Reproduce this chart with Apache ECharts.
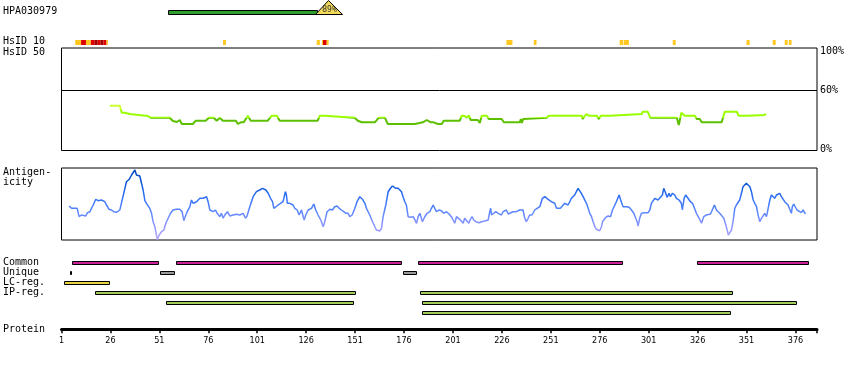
<!DOCTYPE html>
<html><head><meta charset="utf-8">
<script src="https://cdn.jsdelivr.net/npm/echarts@6/dist/echarts.min.js"></script>
<style>html,body{margin:0;padding:0;background:#fff}#c{width:850px;height:370px}</style>
</head><body><div id="c"></div>
<script>
// ---------- data ----------
const antibodyName = 'HPA030979';
const antigenRange = [[55.5, 131.4]];
const antigenIdentity = '89%';

// HsID 10 cells: [start, end, level] level 1=yellow, 2=red, 3=dark red
const hsid10Cells = [
  [8,11,1],[11,13.5,2],[13.5,16,1],[16,18,2],[18,19.5,3],[19.5,21,2],[21,22.5,3],[22.5,24,2],[24,24.7,1],
  [83.5,85,1],
  [131.4,133,1],[134,134.6,1],[134.6,136.5,2],[136.5,137.5,1],
  [228.3,231.4,1],[242.3,243.7,1],[286.2,288,1],[288.3,290.9,1],
  [313.3,314.8,1],[351,352.6,1],[364.4,365.9,1],[370.5,372,1],[372.6,374,1]
];

// HsID 50 identity line (residue, %)
const hsRes = [25.7,30.8,31.8,33.3,33.9,35.9,36.4,45.1,45.8,46.5,
  56.3,57.9,59.9,61.4,62.5,68.1,68.6,69.6,74.7,76.3,
  78.8,80.3,81.9,83.4,90.1,91.1,92.6,94.1,96.2,97.7,
  106.4,108.4,111,112.5,131.9,133,135.5,136.5,150.8,152.4,
  154.4,161.1,163.1,166.2,167.7,168.2,168.7,181.5,182.5,185.6,
  187.6,189.7,191.2,193.3,195.3,196.3,204.5,205.5,207,208.1,
  209.1,210.1,213.7,214.7,215.7,218.3,219.3,225.9,227,235.1,
  235.7,236.2,236.9,237.7,248.9,250,266.8,267.3,269.1,270.4,
  274.5,275.5,276.5,281.1,282.1,297.5,298,300.5,301.8,315.4,
  316.4,317.7,319.4,324.6,325.6,327.1,328.1,338.3,339.9,346,
  347,351.6,352.6,360.3,360.8];
const hsVal = [44.8,44.8,37.8,37.8,36.5,36.5,34.5,34.5,36.5,32.8,
  32.8,29.5,28.5,30.5,26.5,26.5,24.5,29.8,29.8,32.8,
  32.8,29.8,32.8,29.8,29.8,26.5,28.2,28.2,34.8,29.8,
  29.8,34.8,34.8,29.8,29.8,34.8,34.8,32.8,32.8,29.8,
  28.2,28.2,32.8,32.8,26.5,24.5,26.5,26.5,28.2,28.2,
  30.5,28.2,28.2,26.5,26.5,29.8,29.8,34.8,34.5,32.8,
  35,30.5,30.5,27.5,34.8,34.8,31.5,31.5,28.2,28.2,
  31.5,27.5,31.5,32.8,32.8,34.8,34.8,31.5,36.5,34.8,
  34.8,31.5,34.8,34.8,36.5,36.5,38.8,38.8,32.8,32.8,
  25.5,37.8,34.8,34.8,31.5,31.5,28.2,28.2,38.8,38.8,
  34.8,34.8,35.5,35.5,37];

// Antigenicity profile (residue, score)
const antigenicity = [
[4.9,34],[6.1,31.7],[9.0,31.7],[10.0,23.3],[11.2,25],[12.1,26.7],[13.4,24],[14.3,27.3],[15.5,28.3],[16.3,30],
[17.2,35],[18.5,40.7],[19.7,39.3],[21.4,40],[23.1,38.3],[24.0,35],[25.3,30.7],[26.5,30],[27.7,28.3],[29.1,27.7],
[29.9,26],[30.8,30],[31.6,36.7],[32.8,46.7],[34.2,58.3],[35.6,60.7],[36.8,65],[37.6,66],[38.5,70],[39.3,65],
[40.2,66],[41.0,64],[41.9,56.7],[42.7,50],[43.6,39.3],[44.4,36.7],[45.3,34],[46.1,31.7],[47.0,26.7],[47.8,18.3],
[48.7,13.3],[49.5,5],[50.0,0.5],[50.9,5],[52.1,8.3],[53.3,10],[54.3,16.7],[55.5,21.7],[56.7,26.7],[58.0,30],
[59.7,30.7],[61.4,30.7],[62.6,28.3],[63.5,19.3],[64.2,23.3],[65.2,28.3],[66.6,33.3],[67.4,40],[68.3,36.7],[70.0,38.3],
[71.7,41.7],[73.4,41.7],[75.1,43.3],[75.9,38.3],[76.8,30],[77.6,31.7],[78.5,28.3],[79.7,30],[80.5,26.7],[81.9,23.3],
[82.7,26.7],[83.6,21.7],[84.4,25],[85.8,28.3],[87.0,24],[88.7,25],[90.4,25.7],[92.1,25],[93.8,26.7],[95.0,21.7],
[95.8,24],[97.2,33.3],[98.9,43.3],[100.6,48.3],[102.3,50],[103.7,51.7],[104.5,53.3],[105.4,50],[106.6,46.7],[107.8,41.7],
[108.8,38.3],[109.5,31.7],[110.5,33.3],[111.7,35],[112.9,36.7],[114.2,38.3],[115.4,48.3],[115.9,45],[116.4,36.7],[117.6,36.7],
[118.5,35],[119.3,35],[120.2,31.7],[121.4,30],[122.4,25],[123.6,30],[124.5,23.3],[125.0,20],[125.8,25],[127.0,30],
[127.9,30],[128.7,31.7],[129.9,36],[130.9,30],[132.1,25],[133.0,21.7],[133.8,18.3],[134.7,13.3],[135.5,18.3],[136.7,28.3],
[138.1,30.7],[139.4,30],[140.6,33.3],[141.8,34],[142.9,31.7],[144.0,30],[145.2,28.3],[146.3,26.7],[147.4,26.7],[148.3,23.3],
[149.5,25],[150.9,31.7],[152.0,38.3],[153.4,43.3],[154.8,40.7],[156.0,36.7],[156.8,31.7],[157.7,30],[158.5,25],[159.9,18.3],
[161.1,13.3],[161.9,10],[162.8,8.3],[163.6,9],[164.5,11.7],[165.3,23.3],[166.7,35],[167.9,48.3],[169.1,51.7],[170.1,54],
[170.8,55],[171.8,51.7],[173.0,51.7],[173.8,50.7],[174.7,48.3],[175.5,43.3],[176.4,38.3],[177.2,35],[178.1,23.3],[179.3,22.7],
[180.7,23.3],[181.5,21.7],[182.4,16.7],[183.2,23.3],[184.1,26.7],[185.4,18.3],[186.6,23.3],[187.8,26.7],[189.2,28.3],[190.0,31.7],
[190.9,35],[191.7,31.7],[192.6,28.3],[193.9,30],[195.1,29.3],[196.3,26.7],[197.7,28.3],[199.0,26],[200.2,23.3],[201.1,20],
[201.9,16.7],[202.8,23.3],[203.6,21.7],[204.5,20.7],[205.3,20],[206.2,16.7],[207.0,21.7],[207.9,20],[209.1,16.7],[209.9,20.7],
[210.8,23.3],[211.6,20],[212.7,18.3],[213.5,20],[214.4,17.3],[215.6,18.3],[216.4,16.7],[217.3,19],[218.1,19],[219.0,20],
[219.8,28.3],[220.3,31.7],[220.7,25],[221.5,26.7],[222.9,28.3],[224.1,26.7],[224.9,28.3],[225.8,25],[226.6,28.3],[227.5,26.7],
[228.3,30],[229.2,26],[230.0,27.3],[231.7,28.3],[233.4,28.3],[235.1,30],[236.0,31.7],[236.8,30],[237.7,21.7],[238.5,18.3],
[239.4,21.7],[240.2,25],[241.4,25],[242.8,30],[244.0,31.7],[245.4,33.3],[246.7,41.7],[247.9,43.3],[248.8,41.7],[249.6,40.7],
[250.5,40],[251.3,38.3],[252.2,40],[253.0,36.7],[253.9,31.7],[254.7,30],[255.9,31.7],[256.9,33.3],[258.1,36.7],[259.0,38.3],
[259.8,35],[260.7,38.3],[261.5,41.7],[262.4,40.7],[263.2,45],[264.1,46.7],[264.9,51.7],[265.8,50],[266.6,46.7],[267.5,43.3],
[268.4,41.7],[269.2,36.7],[270.1,31.7],[270.9,26.7],[271.8,23.3],[272.6,18.3],[273.5,13.3],[274.3,10.7],[275.2,9.3],[276.0,9.3],
[276.9,13.3],[277.4,18.3],[278.1,20],[279.1,22.7],[280.3,24],[281.5,23.3],[282.5,30],[283.3,33.3],[284.5,38.3],[285.4,40],
[285.9,45],[286.7,40],[287.9,33.3],[289.6,33.3],[291.0,32.7],[292.2,30],[293.4,26.7],[294.4,21.7],[295.1,18.3],[295.6,14],
[296.4,21.7],[297.3,26.7],[299.0,27.3],[300.7,27.3],[301.6,30],[302.4,36.7],[303.3,38.3],[304.1,41.7],[305.0,43.3],[305.8,40],
[306.7,41.7],[308.0,45],[308.7,51.7],[309.7,46.7],[310.4,42.7],[311.4,46.7],[312.1,43.3],[313.1,46.7],[314.3,45],[315.2,41.7],
[316.5,40],[317.7,36.7],[318.2,30],[319.1,41.7],[319.9,45],[321.1,41.7],[322.3,38.3],[323.4,36.7],[324.2,35],[325.4,26.7],
[326.8,21.7],[328.0,16.7],[329.1,23.3],[330.5,25],[331.4,26.7],[332.6,26],[333.6,25],[334.6,35],[335.1,33.3],[335.6,30],
[336.5,28.3],[337.3,26.7],[338.2,25],[339.4,21.7],[340.4,15],[341.1,10],[341.7,5],[342.4,6],[343.3,10],[344.1,18.3],
[345.0,31.7],[345.8,35],[346.7,36.7],[347.5,40],[348.4,46.7],[349.2,53.3],[350.1,55],[350.9,56.7],[351.8,57.3],[352.7,53.3],
[353.5,48.3],[354.4,40],[355.2,36.7],[356.1,33.3],[356.9,25],[357.8,18.3],[358.6,21.7],[359.5,23.3],[360.3,26.7],[361.2,23.3],
[362.0,25],[362.9,40],[363.7,45],[364.6,43.3],[365.4,41.7],[366.3,45],[367.1,46.7],[368.0,46.7],[368.8,43.3],[369.7,43.3],
[370.5,38.3],[371.4,36.7],[372.2,35],[373.1,36.7],[373.9,26.7],[374.4,33.3],[375.1,36],[376.1,35],[376.8,30],[377.7,28.3],
[379.0,27.3],[379.9,30],[380.7,28.3],[381.1,26]
];

// Feature tracks: [start, end]
const commonRegions = [[6.4,50.4],[59.5,174.5],[183.2,287.3],[325.7,382.4]];
const uniqueRegions = [[5.2,5.8],[51.4,58.5],[175.5,182.2]];
const lcRegions = [[2.3,25.5]];
const ipRow1 = [[18.2,150.7],[184.2,343.8]];
const ipRow2 = [[54.4,149.7],[185.2,376.5]];
const ipRow3 = [[185.2,342.8]];

const proteinLength = 387;
const tickStep = 25;

// ---------- chart ----------
const chart = echarts.init(document.getElementById('c'), null, {renderer: 'canvas'});
const L = 61.5, R = 33;
const MONO = "'DejaVu Sans Mono', monospace";
const grids = [
  {left: L, right: R, top: 0, height: 15},
  {left: L, right: R, top: 40, height: 5},
  {left: L, right: R, top: 48, height: 102.5, show: true, borderColor: '#000', borderWidth: 1, backgroundColor: 'transparent'},
  {left: L, right: R, top: 168, height: 72, show: true, borderColor: '#000', borderWidth: 1, backgroundColor: 'transparent'},
  {left: L, right: R, top: 255, height: 74.3}
];
const xAxes = grids.map((g, i) => ({
  type: 'value', gridIndex: i, min: 1, max: proteinLength, show: i === 4,
  interval: tickStep,
  axisLine: {show: true, onZero: false, lineStyle: {color: '#000', width: 3}},
  axisTick: {show: true, length: 4, lineStyle: {color: '#000', width: 1.5}},
  splitLine: {show: false},
  axisLabel: {
    show: true, margin: 7, fontSize: 9, color: '#000',
    fontFamily: "'Liberation Sans Narrow', 'DejaVu Sans Condensed', 'DejaVu Sans', sans-serif",
    formatter: v => ((Math.round(v) - 1) % tickStep === 0 && v < proteinLength) ? String(Math.round(v)) : ''
  }
}));
const yAxes = [
  {type: 'value', gridIndex: 0, min: 0, max: 1, show: false},
  {type: 'value', gridIndex: 1, min: 0, max: 1, show: false},
  {type: 'value', gridIndex: 2, min: 0, max: 102.5, show: false},
  {type: 'value', gridIndex: 3, min: 0, max: 72, show: false},
  {type: 'value', gridIndex: 4, min: -0.75, max: 6.68, inverse: true, show: false}
];

function trackSeries(regions, row, color) {
  return {
    type: 'custom', xAxisIndex: 4, yAxisIndex: 4, silent: true,
    data: regions.map(r => [r[0], r[1], row]),
    encode: {x: [0, 1], y: 2},
    renderItem: (params, api) => {
      const a = api.coord([api.value(0), api.value(2)]);
      const b = api.coord([api.value(1), api.value(2)]);
      const x0 = Math.round(a[0]) + 0.5, x1 = Math.max(Math.round(b[0]) + 0.5, x0 + 0.5);
      const yc = Math.round(a[1] - 2) + 0.5;
      return {type: 'rect', shape: {x: x0, y: yc, width: x1 - x0, height: 3},
        style: {fill: color, stroke: '#000', lineWidth: 1}};
    }
  };
}

const hsColors = {1: '#ffc820', 2: '#dd0000', 3: '#a00000'};

const option = {
  animation: false,
  backgroundColor: '#fff',
  grid: grids,
  xAxis: xAxes,
  yAxis: yAxes,
  visualMap: [
    {type: 'piecewise', show: false, seriesIndex: 2, dimension: 1,
      pieces: [{lt: 32, color: '#5cc000'}, {gte: 32, lt: 40, color: '#99ff00'}, {gte: 40, color: '#ccff33'}]},
    {type: 'continuous', show: false, seriesIndex: 3, dimension: 1, min: 0, max: 72,
      inRange: {color: ['#b4a4ff', '#8c94ff', '#5a86ff', '#2f70f4', '#0a55d6', '#0046b8']}}
  ],
  series: [
    // 0: antigen bar with identity triangle
    {
      type: 'custom', xAxisIndex: 0, yAxisIndex: 0, silent: true,
      data: antigenRange.map(r => [r[0], r[1]]),
      encode: {x: [0, 1]},
      renderItem: (params, api) => {
        const a = api.coord([api.value(0), 0]);
        const b = api.coord([api.value(1), 1]);
        const bottom = a[1], top = b[1];
        const x0 = Math.round(a[0]) + 0.5, x1 = Math.round(b[0]) + 0.5;
        return {type: 'group', children: [
          {type: 'rect', shape: {x: x0, y: Math.round(bottom - 5) + 0.5, width: x1 - x0, height: 4},
            style: {fill: '#2e9e2e', stroke: '#000', lineWidth: 1}},
          {type: 'polygon', shape: {points: [[x1 - 2, bottom - 0.5], [x1 + 11, top + 0.5], [x1 + 25, bottom - 0.5]]},
            style: {fill: '#f2d95a', stroke: '#000', lineWidth: 1}},
          {type: 'text', style: {text: antigenIdentity, x: x1 + 12, y: bottom - 5.5, align: 'center', verticalAlign: 'middle',
            fontSize: 8, fontFamily: MONO, fill: '#333'}}
        ]};
      }
    },
    // 1: HsID 10 cells
    {
      type: 'custom', xAxisIndex: 1, yAxisIndex: 1, silent: true,
      data: hsid10Cells,
      encode: {x: [0, 1]},
      renderItem: (params, api) => {
        const a = api.coord([api.value(0), 1]);
        const b = api.coord([api.value(1), 0]);
        return {type: 'rect', shape: {x: a[0], y: a[1], width: b[0] - a[0], height: b[1] - a[1]},
          style: {fill: hsColors[api.value(2)]}};
      }
    },
    // 2: HsID 50 identity line
    {
      type: 'line', xAxisIndex: 2, yAxisIndex: 2, silent: true, symbol: 'none',
      data: hsRes.map((r, i) => [r, hsVal[i]]),
      lineStyle: {width: 2},
      markLine: {silent: true, symbol: 'none', label: {show: false},
        lineStyle: {color: '#000', width: 1, type: 'solid'}, data: [{yAxis: 60}]}
    },
    // 3: antigenicity
    {
      type: 'line', xAxisIndex: 3, yAxisIndex: 3, silent: true, symbol: 'none',
      data: antigenicity, lineStyle: {width: 1.5}
    },
    trackSeries(commonRegions, 0, '#cc2299'),
    trackSeries(uniqueRegions, 1, '#999999'),
    trackSeries(lcRegions, 2, '#e8d43c'),
    trackSeries(ipRow1, 3, '#a2cc5c'),
    trackSeries(ipRow2, 4, '#a2cc5c'),
    trackSeries(ipRow3, 5, '#a2cc5c')
  ],
  graphic: [
    ['HPA030979', 3, 12], ['HsID 10', 3, 42], ['HsID 50', 3, 53],
    ['Antigen-', 3, 173], ['icity', 3, 183],
    ['Common', 3, 263], ['Unique', 3, 273], ['LC-reg.', 3, 283], ['IP-reg.', 3, 293], ['Protein', 3, 330],
    ['100%', 820, 52], ['60%', 820, 91], ['0%', 820, 150]
  ].map(t => ({type: 'text', left: t[1], top: t[2] - 6, silent: true,
    style: {text: t[0] === 'HPA030979' ? antibodyName : t[0], fontSize: 10, fontFamily: MONO, fill: '#000'}}))
};
chart.setOption(option);
</script>
</body></html>
